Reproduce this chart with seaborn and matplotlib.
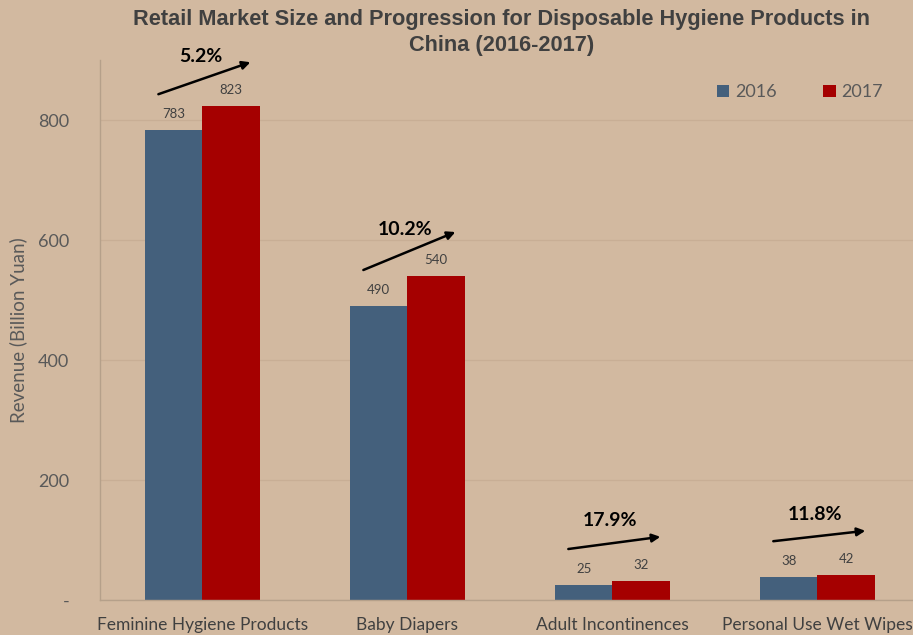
import matplotlib
matplotlib.use("Agg")
import matplotlib.pyplot as plt
import seaborn as sns
import pandas as pd

# Data
categories = ["Feminine Hygiene Products", "Baby Diapers", "Adult Incontinences", "Personal Use Wet Wipes"]
years = ["2016", "2017"]
revenue_2016 = [783, 490, 25, 38]
revenue_2017 = [823, 540, 32, 42]
growth_labels = ["5.2%", "10.2%", "17.9%", "11.8%"]
y_ticks = [0, 200, 400, 600, 800]
y_tick_labels = ["-", "200", "400", "600", "800"]
title_lines = ["Retail Market Size and Progression for Disposable Hygiene Products in",
               "China (2016-2017)"]

df = pd.DataFrame({
    "Category": categories * 2,
    "Year": [years[0]] * len(categories) + [years[1]] * len(categories),
    "Revenue": revenue_2016 + revenue_2017,
})

bg = "#D2B9A0"
blue = "#44607C"
red = "#A50000"
text_gray = "#404040"

sns.set_theme(style="white")
plt.rcParams["font.family"] = ["Lato", "DejaVu Sans"]

fig = plt.figure(figsize=(9.13, 6.35), dpi=100, facecolor=bg)
ax = fig.add_axes([0.1095, 0.0551, 0.898, 0.8504])
ax.set_facecolor(bg)

sns.barplot(data=df, x="Category", y="Revenue", hue="Year", order=categories,
            hue_order=years, palette=[blue, red], width=0.56, ax=ax,
            saturation=1, edgecolor="none", linewidth=0)

ax.set_ylim(0, 900)
ax.set_xlim(-0.5, 3.5)
ax.set_yticks(y_ticks)
ax.set_yticklabels(y_tick_labels, color="#595959", fontsize=13)
ax.tick_params(axis="y", length=0, pad=22)
ax.tick_params(axis="x", length=0, pad=12, labelsize=12.5, labelcolor=text_gray)
ax.set_xlabel("")
ax.set_ylabel("Revenue (Billion Yuan)", color="#595959", fontsize=13.5, labelpad=8)
ax.yaxis.grid(True, color="#C8AE95", linewidth=0.9)
ax.set_axisbelow(True)
for side in ["top", "right"]:
    ax.spines[side].set_visible(False)
for side in ["left", "bottom"]:
    ax.spines[side].set_color("#B5A08A")
    ax.spines[side].set_linewidth(1.0)

# Value labels above bars
for container in ax.containers:
    ax.bar_label(container, fmt="%d", padding=7, fontsize=9.5, color=text_gray)

# Growth arrows and percentages
inv = ax.transData.inverted()
for i, (v16, v17, g) in enumerate(zip(revenue_2016, revenue_2017, growth_labels)):
    x0, x1 = i - 0.215, i + 0.234
    start = ax.transData.transform((x0, v16))
    end = ax.transData.transform((x1, v17))
    start = (start[0], start[1] + 36)
    end = (end[0], end[1] + 44)
    s = inv.transform(start)
    e = inv.transform(end)
    ax.annotate("", xy=e, xytext=s, xycoords="data", textcoords="data",
                arrowprops=dict(arrowstyle="-|>", color="black", lw=1.8,
                                mutation_scale=12, shrinkA=0, shrinkB=0),
                annotation_clip=False)
    mid = ((start[0] + end[0]) / 2 - 4, (start[1] + end[1]) / 2 + 22)
    m = inv.transform(mid)
    ax.text(m[0], m[1], g, ha="center", va="center", fontsize=14,
            fontweight="bold", color="black", clip_on=False)

leg = ax.legend(loc="upper right", bbox_to_anchor=(0.975, 0.985), ncol=2, frameon=False,
                fontsize=13, handlelength=0.7, handleheight=0.7, handletextpad=0.3,
                columnspacing=2.6, labelcolor="#595959")

# Two-line title, one text per line
for k, (line, ypix) in enumerate(zip(title_lines, [20, 46])):
    fig.text(0.549, 1 - ypix / 635, line, ha="center", va="center", fontsize=15.7,
             fontweight="bold", color=text_gray, family=["Liberation Sans", "DejaVu Sans"])

fig.savefig("out.png", dpi=100, facecolor=bg)
